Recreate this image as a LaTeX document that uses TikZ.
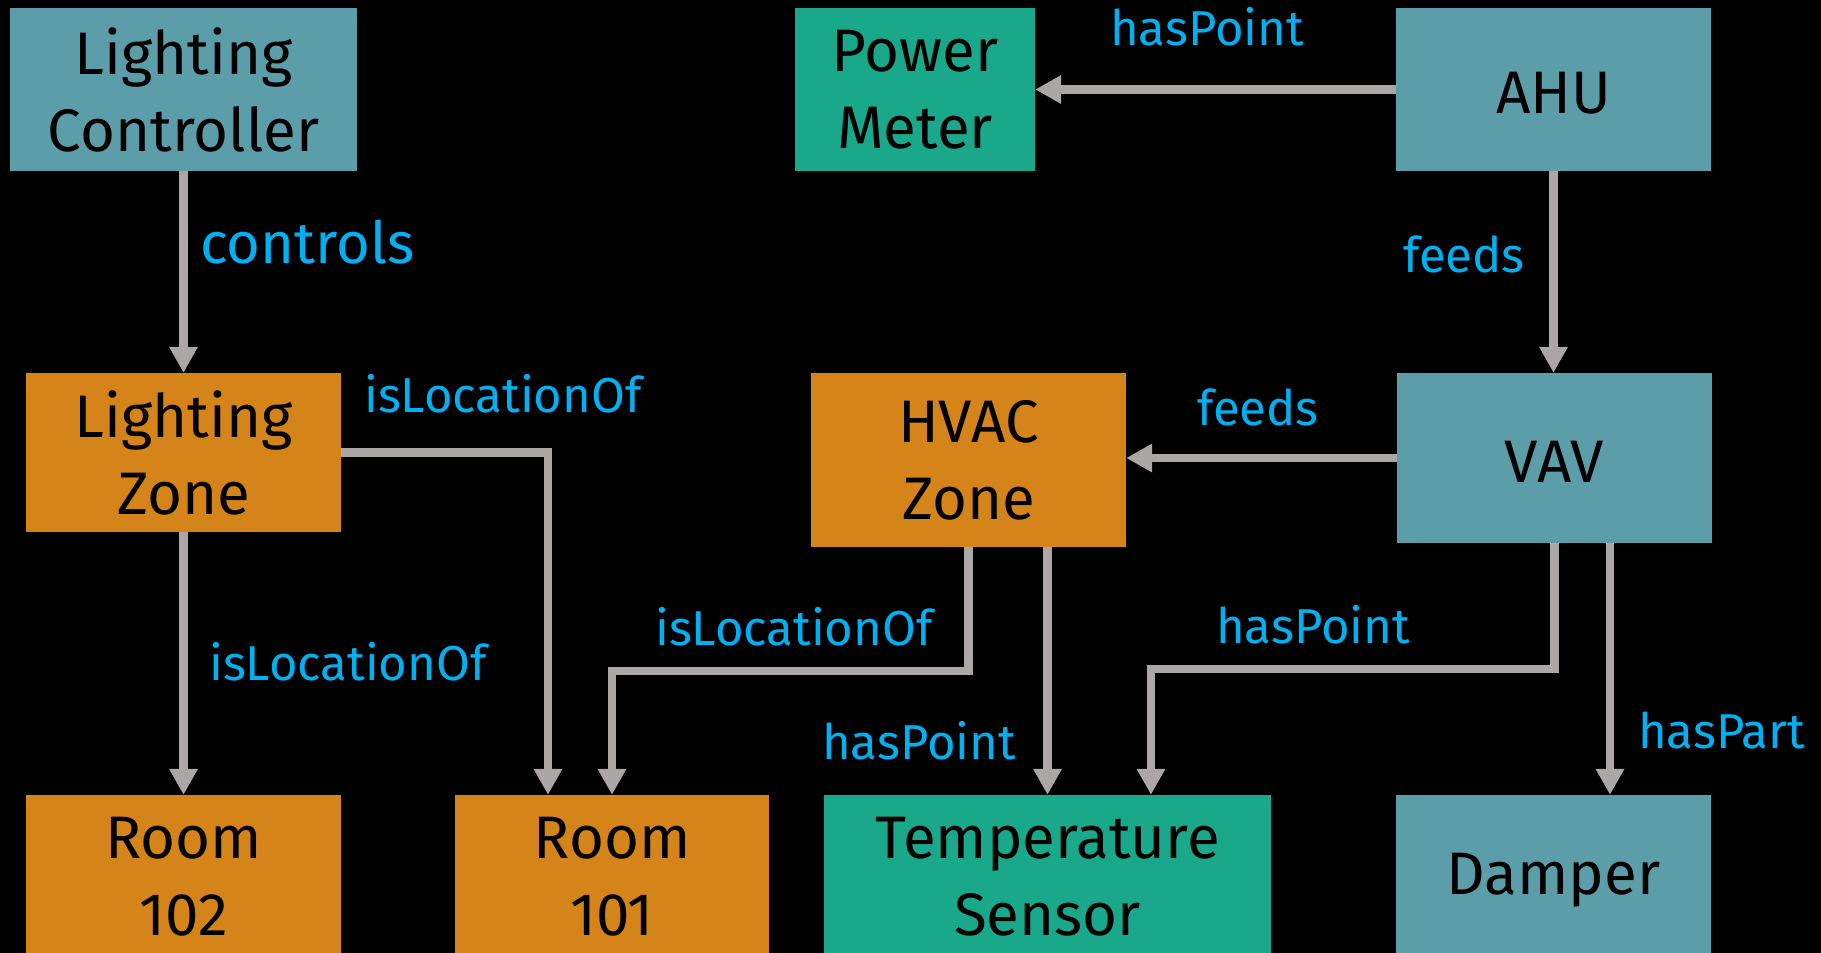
\documentclass[tikz,border=0pt]{standalone}
\usepackage{fontspec}
\setmainfont{Fira Sans}
\usetikzlibrary{arrows.meta}
\definecolor{tealbox}{HTML}{5B9EA9}
\definecolor{greenbox}{HTML}{19A88A}
\definecolor{orangebox}{HTML}{D5841A}
\definecolor{arrgray}{HTML}{ABA7A6}
\definecolor{lblblue}{HTML}{00B0F0}
\tikzset{
  box/.style={rectangle, inner sep=0pt, align=center, text=black,
    font=\fontsize{60}{77}\selectfont,
    execute at begin node={\rule{0pt}{48pt}}},
  tealnode/.style={box, fill=tealbox},
  greennode/.style={box, fill=greenbox},
  orangenode/.style={box, fill=orangebox},
  arr/.style={draw=arrgray, line width=8.5pt, -{Triangle[length=26pt,width=27pt]}},
  lbl/.style={inner sep=0pt, anchor=base west, text=lblblue,
    font=\fontsize{49}{60}\selectfont},
}
\begin{document}
\begin{tikzpicture}[x=1pt,y=-1pt]
\fill[black] (0,0) rectangle (1821,953);
\useasboundingbox (0,0) rectangle (1821,953);

% nodes
\node[tealnode, minimum width=347pt, minimum height=163pt] (lc) at (183.5,89.5) {Lighting\\Controller};
\node[greennode, minimum width=240pt, minimum height=163pt] (pm) at (915,89.5) {Power\\Meter};
\node[tealnode, minimum width=315pt, minimum height=163pt] (ahu) at (1553.5,89.5) {AHU};
\node[orangenode, minimum width=315pt, minimum height=159pt] (lz) at (183.5,452.5) {Lighting\\Zone};
\node[orangenode, minimum width=315pt, minimum height=174pt] (hz) at (968.5,460) {HVAC\\Zone};
\node[tealnode, minimum width=315pt, minimum height=170pt] (vav) at (1554.5,458) {VAV};
\node[orangenode, minimum width=315pt, minimum height=163pt] (r102) at (183.5,876.5) {Room\\102};
\node[orangenode, minimum width=314pt, minimum height=163pt] (r101) at (612,876.5) {Room\\101};
\node[greennode, minimum width=447pt, minimum height=163pt] (ts) at (1047.5,876.5) {Temperature\\Sensor};
\node[tealnode, minimum width=315pt, minimum height=163pt] (dmp) at (1553.5,876.5) {Damper};

% connectors
\draw[arr] (lc.south) -- (lc.south |- lz.north);
\draw[arr] (ahu.west) -- (ahu.west -| pm.east);
\draw[arr] (ahu.south) -- (ahu.south |- vav.north);
\draw[arr] (vav.west) -- (vav.west -| hz.east);
\draw[arr] (lz.east) -| ([xshift=-64pt]r101.north);
\draw[arr] (lz.south) -- (lz.south |- r102.north);
\draw[arr] (hz.south) -- ++(0,124) -| (r101.north);
\draw[arr] (ts.north |- hz.south) -- (ts.north);
\draw[arr] (vav.south) -- ++(0,126) -| ([xshift=103.5pt]ts.north);
\draw[arr] ([xshift=55.5pt]vav.south) -- ([xshift=55.5pt]vav.south |- dmp.north);

% labels
\node[lbl, font=\fontsize{58}{70}\selectfont] (l1) at (200,263) {controls};
\node[lbl] (l2) at (1110,45) {hasPoint};
\node[lbl] (l3) at (1403,272) {feeds};
\node[lbl] (l4) at (364,412) {isLocationOf};
\node[lbl] (l5) at (1197,425) {feeds};
\node[lbl] (l6) at (655,645) {isLocationOf};
\node[lbl] (l7) at (1216,643) {hasPoint};
\node[lbl] (l8) at (209,680) {isLocationOf};
\node[lbl] (l9) at (822,759) {hasPoint};
\node[lbl] (l10) at (1638,748) {hasPart};
\end{tikzpicture}
\end{document}
